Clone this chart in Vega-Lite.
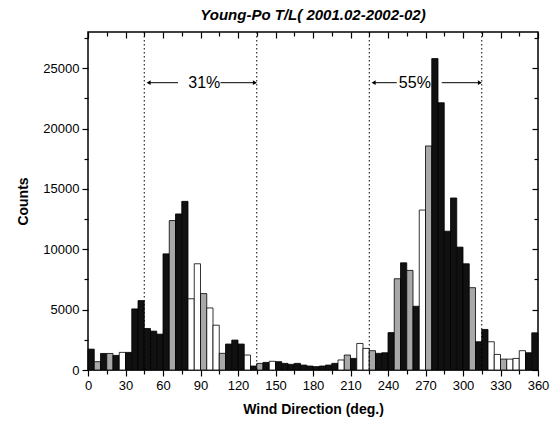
{
  "$schema": "https://vega.github.io/schema/vega-lite/v6.json",
  "width": 450,
  "height": 338,
  "autosize": {"type": "none"},
  "padding": {"left": 88, "top": 32, "right": 18, "bottom": 53},
  "background": "white",
  "title": {"text": "Young-Po T/L( 2001.02-2002-02)", "font": "Liberation Sans", "fontSize": 15, "fontWeight": "bold", "fontStyle": "italic", "color": "black", "offset": 8, "anchor": "middle"},
  "config": {
    "view": {"stroke": "black", "strokeWidth": 1.5},
    "axis": {"grid": false, "domain": false, "labelFont": "Liberation Sans", "labelFontSize": 13, "labelColor": "black", "tickColor": "black", "tickWidth": 1.2, "titleFont": "Liberation Sans", "titleFontSize": 14, "titleFontWeight": "bold", "titleColor": "black", "labelOverlap": false, "labelFlush": false}
  },
  "datasets": {
    "bars": [
      {"start": 0, "end": 5, "count": 1730, "pattern": "solid"},
      {"start": 5, "end": 10, "count": 690, "pattern": "stipple"},
      {"start": 10, "end": 15, "count": 1370, "pattern": "solid"},
      {"start": 15, "end": 20, "count": 1370, "pattern": "stipple"},
      {"start": 20, "end": 25, "count": 1210, "pattern": "solid"},
      {"start": 25, "end": 30, "count": 1460, "pattern": "open"},
      {"start": 30, "end": 35, "count": 1460, "pattern": "solid"},
      {"start": 35, "end": 40, "count": 5060, "pattern": "solid"},
      {"start": 40, "end": 45, "count": 5750, "pattern": "solid"},
      {"start": 45, "end": 50, "count": 3440, "pattern": "solid"},
      {"start": 50, "end": 55, "count": 3220, "pattern": "solid"},
      {"start": 55, "end": 60, "count": 2970, "pattern": "solid"},
      {"start": 60, "end": 65, "count": 9620, "pattern": "solid"},
      {"start": 65, "end": 70, "count": 12380, "pattern": "stipple"},
      {"start": 70, "end": 75, "count": 12930, "pattern": "solid"},
      {"start": 75, "end": 80, "count": 13970, "pattern": "solid"},
      {"start": 80, "end": 85, "count": 5900, "pattern": "open"},
      {"start": 85, "end": 90, "count": 8800, "pattern": "open"},
      {"start": 90, "end": 95, "count": 6330, "pattern": "stipple"},
      {"start": 95, "end": 100, "count": 5140, "pattern": "open"},
      {"start": 100, "end": 105, "count": 3710, "pattern": "open"},
      {"start": 105, "end": 110, "count": 1380, "pattern": "stipple"},
      {"start": 110, "end": 115, "count": 2150, "pattern": "solid"},
      {"start": 115, "end": 120, "count": 2480, "pattern": "solid"},
      {"start": 120, "end": 125, "count": 2150, "pattern": "solid"},
      {"start": 125, "end": 130, "count": 1240, "pattern": "open"},
      {"start": 130, "end": 135, "count": 330, "pattern": "solid"},
      {"start": 135, "end": 140, "count": 550, "pattern": "stipple"},
      {"start": 140, "end": 145, "count": 630, "pattern": "solid"},
      {"start": 145, "end": 150, "count": 720, "pattern": "open"},
      {"start": 150, "end": 155, "count": 690, "pattern": "solid"},
      {"start": 155, "end": 160, "count": 550, "pattern": "solid"},
      {"start": 160, "end": 165, "count": 470, "pattern": "solid"},
      {"start": 165, "end": 170, "count": 550, "pattern": "solid"},
      {"start": 170, "end": 175, "count": 410, "pattern": "solid"},
      {"start": 175, "end": 180, "count": 330, "pattern": "solid"},
      {"start": 180, "end": 185, "count": 280, "pattern": "solid"},
      {"start": 185, "end": 190, "count": 330, "pattern": "solid"},
      {"start": 190, "end": 195, "count": 410, "pattern": "solid"},
      {"start": 195, "end": 200, "count": 550, "pattern": "solid"},
      {"start": 200, "end": 205, "count": 830, "pattern": "open"},
      {"start": 205, "end": 210, "count": 1240, "pattern": "stipple"},
      {"start": 210, "end": 215, "count": 960, "pattern": "solid"},
      {"start": 215, "end": 220, "count": 2200, "pattern": "open"},
      {"start": 220, "end": 225, "count": 1790, "pattern": "open"},
      {"start": 225, "end": 230, "count": 1600, "pattern": "stipple"},
      {"start": 230, "end": 235, "count": 1380, "pattern": "solid"},
      {"start": 235, "end": 240, "count": 1430, "pattern": "solid"},
      {"start": 240, "end": 245, "count": 3100, "pattern": "solid"},
      {"start": 245, "end": 250, "count": 7560, "pattern": "stipple"},
      {"start": 250, "end": 255, "count": 8880, "pattern": "solid"},
      {"start": 255, "end": 260, "count": 8250, "pattern": "stipple"},
      {"start": 260, "end": 265, "count": 5280, "pattern": "solid"},
      {"start": 265, "end": 270, "count": 13250, "pattern": "open"},
      {"start": 270, "end": 275, "count": 18560, "pattern": "stipple"},
      {"start": 275, "end": 280, "count": 25800, "pattern": "solid"},
      {"start": 280, "end": 285, "count": 22140, "pattern": "solid"},
      {"start": 285, "end": 290, "count": 11500, "pattern": "solid"},
      {"start": 290, "end": 295, "count": 14250, "pattern": "solid"},
      {"start": 295, "end": 300, "count": 10180, "pattern": "solid"},
      {"start": 300, "end": 305, "count": 8800, "pattern": "solid"},
      {"start": 305, "end": 310, "count": 6820, "pattern": "stipple"},
      {"start": 310, "end": 315, "count": 2340, "pattern": "solid"},
      {"start": 315, "end": 320, "count": 3360, "pattern": "solid"},
      {"start": 320, "end": 325, "count": 2340, "pattern": "open"},
      {"start": 325, "end": 330, "count": 1290, "pattern": "open"},
      {"start": 330, "end": 335, "count": 900, "pattern": "stipple"},
      {"start": 335, "end": 340, "count": 900, "pattern": "open"},
      {"start": 340, "end": 345, "count": 960, "pattern": "open"},
      {"start": 345, "end": 350, "count": 1600, "pattern": "open"},
      {"start": 350, "end": 355, "count": 1430, "pattern": "solid"},
      {"start": 355, "end": 360, "count": 3080, "pattern": "solid"}
    ],
    "bounds": [{"x": 45}, {"x": 135}, {"x": 225}, {"x": 315}],
    "labels": [{"x": 93, "y": 23800, "label": "31%"}, {"x": 261.5, "y": 23800, "label": "55%"}],
    "arrows": [
      {"x1": 48, "x2": 72, "y": 23800},
      {"x1": 106, "x2": 134, "y": 23800},
      {"x1": 228, "x2": 247, "y": 23800},
      {"x1": 283, "x2": 314, "y": 23800}
    ],
    "heads": [
      {"x": 48.5, "y": 23800, "dir": "left"},
      {"x": 133.5, "y": 23800, "dir": "right"},
      {"x": 228.5, "y": 23800, "dir": "left"},
      {"x": 313.5, "y": 23800, "dir": "right"}
    ]
  },
  "layer": [
    {
      "data": {"name": "bars"},
      "mark": {"type": "bar", "stroke": "black", "strokeWidth": 0.8},
      "encoding": {
        "x": {"field": "start", "type": "quantitative", "scale": {"domain": [0, 360], "nice": false, "zero": false},
          "axis": {"orient": "bottom", "title": "Wind Direction (deg.)", "values": [0,15,30,45,60,75,90,105,120,135,150,165,180,195,210,225,240,255,270,285,300,315,330,345,360],
            "labelExpr": "datum.value % 30 === 0 ? datum.label : ''",
            "tickSize": {"condition": {"test": "datum.value % 30 === 0", "value": 6}, "value": 4},
            "labelPadding": 3, "titlePadding": 10}},
        "x2": {"field": "end"},
        "y": {"field": "count", "type": "quantitative", "scale": {"domain": [0, 28000], "nice": false},
          "axis": {"orient": "left", "title": "Counts", "values": [0,2500,5000,7500,10000,12500,15000,17500,20000,22500,25000,27500],
            "format": "d",
            "labelExpr": "datum.value % 5000 === 0 ? datum.label : ''",
            "tickSize": {"condition": {"test": "datum.value % 5000 === 0", "value": 6}, "value": 4},
            "labelPadding": 3, "titlePadding": 12}},
        "y2": {"datum": 0},
        "fill": {"field": "pattern", "type": "nominal", "scale": {"domain": ["solid", "stipple", "open"], "range": ["#111111", "#a8a8a8", "#ffffff"]}, "legend": null}
      }
    },
    {
      "data": {"name": "bounds"},
      "mark": {"type": "rule", "color": "black", "strokeWidth": 1, "strokeDash": [1.5, 2.5]},
      "encoding": {
        "x": {"field": "x", "type": "quantitative",
          "axis": {"orient": "top", "title": null, "labels": false, "values": [0,15,30,45,60,75,90,105,120,135,150,165,180,195,210,225,240,255,270,285,300,315,330,345,360],
            "tickSize": {"condition": {"test": "datum.value % 30 === 0", "value": -6}, "value": -4}}}
      }
    },
    {
      "data": {"name": "arrows"},
      "mark": {"type": "rule", "color": "black", "strokeWidth": 1},
      "encoding": {
        "x": {"field": "x1", "type": "quantitative", "axis": null},
        "x2": {"field": "x2"},
        "y": {"field": "y", "type": "quantitative",
          "axis": {"orient": "right", "title": null, "labels": false, "values": [0,2500,5000,7500,10000,12500,15000,17500,20000,22500,25000,27500],
            "tickSize": {"condition": {"test": "datum.value % 5000 === 0", "value": -6}, "value": -4}}}
      }
    },
    {
      "data": {"name": "heads"},
      "mark": {"type": "point", "filled": true, "color": "black", "size": 22, "opacity": 1},
      "encoding": {
        "x": {"field": "x", "type": "quantitative", "axis": null},
        "y": {"field": "y", "type": "quantitative", "axis": null},
        "shape": {"field": "dir", "type": "nominal", "scale": {"domain": ["left", "right"], "range": ["triangle-left", "triangle-right"]}, "legend": null}
      }
    },
    {
      "data": {"name": "labels"},
      "mark": {"type": "text", "font": "Liberation Sans", "fontSize": 16, "color": "black", "align": "center", "baseline": "middle"},
      "encoding": {
        "x": {"field": "x", "type": "quantitative", "axis": null},
        "y": {"field": "y", "type": "quantitative", "axis": null},
        "text": {"field": "label"}
      }
    }
  ],
  "resolve": {"axis": {"x": "independent", "y": "independent"}}
}
